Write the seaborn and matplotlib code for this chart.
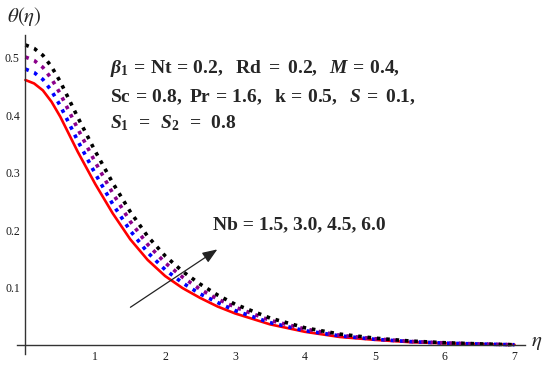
import numpy as np
import pandas as pd
import seaborn as sns
import matplotlib.pyplot as plt
from matplotlib.ticker import MultipleLocator, FixedLocator

# values
eta = [0.0, 0.125, 0.25, 0.375, 0.5, 0.75, 1.0, 1.25, 1.5, 1.75, 2.0, 2.25, 2.5, 2.75, 3.0,
       3.5, 4.0, 4.5, 5.0, 5.5, 6.0, 6.5, 7.0]
theta_nb15 = [0.461, 0.455, 0.443, 0.423, 0.397, 0.336, 0.280, 0.229, 0.184, 0.148, 0.120,
              0.099, 0.082, 0.067, 0.055, 0.036, 0.023, 0.014, 0.009, 0.005, 0.003, 0.0015, 0.0005]
theta_nb30 = [0.480, 0.474, 0.462, 0.442, 0.416, 0.355, 0.298, 0.245, 0.199, 0.161, 0.131,
              0.108, 0.089, 0.074, 0.060, 0.039, 0.025, 0.016, 0.010, 0.006, 0.0033, 0.0017, 0.0005]
theta_nb45 = [0.501, 0.495, 0.483, 0.463, 0.437, 0.376, 0.318, 0.264, 0.215, 0.175, 0.143,
              0.118, 0.097, 0.080, 0.066, 0.043, 0.028, 0.017, 0.011, 0.0063, 0.0037, 0.0018, 0.0005]
theta_nb60 = [0.522, 0.516, 0.504, 0.484, 0.458, 0.396, 0.337, 0.282, 0.232, 0.189, 0.155,
              0.128, 0.106, 0.087, 0.071, 0.047, 0.030, 0.019, 0.012, 0.007, 0.004, 0.002, 0.0005]
nb_labels = ['1.5', '3.0', '4.5', '6.0']
colors = ['#ff0000', '#0000ff', '#8b008b', '#000000']

sns.set_style('white')
plt.rcParams['font.family'] = ['Liberation Serif', 'DejaVu Serif']
plt.rcParams['mathtext.fontset'] = 'custom'
plt.rcParams['mathtext.rm'] = 'Liberation Serif:bold'
plt.rcParams['mathtext.it'] = 'Liberation Serif:italic:bold'
plt.rcParams['mathtext.bf'] = 'Liberation Serif:bold'

d = pd.DataFrame({'eta': eta * 4,
                  'theta': theta_nb15 + theta_nb30 + theta_nb45 + theta_nb60,
                  'Nb': [n for n in nb_labels for _ in eta]})

fig = plt.figure(figsize=(5.5, 3.68), dpi=100)
ax = fig.add_axes([17/550, 0.039, 508/550, 0.867])

for i, (key, dat) in enumerate(d.groupby('Nb', sort=False)):
    if i == 0:
        sns.lineplot(data=dat, x='eta', y='theta', color=colors[i], lw=1.9, ax=ax)
    else:
        sns.lineplot(data=dat, x='eta', y='theta', color=colors[i], lw=2.6, ax=ax,
                     linestyle=(0, (1.0, 1.6)))

ax.set_xlim(-0.12, 7.15)
ax.set_ylim(-0.015, 0.54)
ax.set_xlabel('')
ax.set_ylabel('')
for s in ['top', 'right']:
    ax.spines[s].set_visible(False)
ax.spines['left'].set_position(('data', 0))
ax.spines['bottom'].set_position(('data', 0))
for s in ['left', 'bottom']:
    ax.spines[s].set_color('#333333')
    ax.spines[s].set_linewidth(1.0)

ax.xaxis.set_major_locator(FixedLocator([1, 2, 3, 4, 5, 6, 7]))
ax.xaxis.set_minor_locator(MultipleLocator(0.2))
ax.yaxis.set_major_locator(FixedLocator([0.1, 0.2, 0.3, 0.4, 0.5]))
ax.yaxis.set_minor_locator(MultipleLocator(0.02))
ax.tick_params(which='both', direction='in', color='#333333', labelsize=8.5,
               labelcolor='#1a1a1a', width=0.8)
ax.tick_params(which='major', length=5, pad=4)
ax.tick_params(which='minor', length=2.5)
ax.grid(False)

fig.text(7/550, 1 - 17/368, r'$\theta(\eta)$', fontsize=15, va='center', ha='left',
         math_fontfamily='stix')
fig.text(531/550, 1 - 343/368, r'$\eta$', fontsize=15, va='center', ha='left',
         math_fontfamily='stix')

fs = 14
ax.text(1.21, 0.481,
        r'$\mathit{\beta}_1\,=\,\mathrm{Nt}\,=\,0.2,\ \ \mathrm{Rd}\ =\ 0.2,\ \ \mathit{M}\,=\,0.4,$',
        fontsize=fs, va='center', ha='left')
ax.text(1.21, 0.431,
        r'$\mathrm{Sc}\,=\,0.8,\ \mathrm{Pr}\,=\,1.6,\ \ \mathrm{k}\,=\,0.5,\ \ \mathit{S}\,=\ 0.1,$',
        fontsize=fs, va='center', ha='left')
ax.text(1.21, 0.386, r'$\mathit{S}_1\ \,=\ \,\mathit{S}_2\ \,=\ \,0.8$',
        fontsize=fs, va='center', ha='left')
ax.text(2.68, 0.209, 'Nb = 1.5, 3.0, 4.5, 6.0', fontsize=fs, fontweight='bold',
        va='center', ha='left')

ax.annotate('', xy=(2.78, 0.169), xytext=(1.47, 0.063),
            arrowprops=dict(arrowstyle='-|>,head_length=0.9,head_width=0.35',
                            color='#222222', lw=0.9))

fig.savefig('out.png', dpi=100)
